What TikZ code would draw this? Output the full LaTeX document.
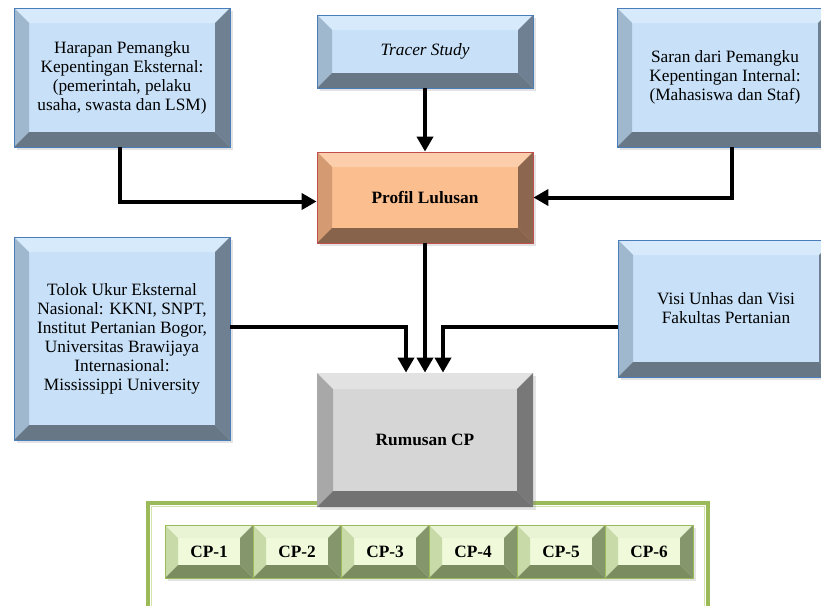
\documentclass[tikz,border=0pt]{standalone}
\usepackage{fontspec}
\setmainfont{Liberation Serif}
\usetikzlibrary{arrows.meta,shadows}
\definecolor{bFace}{RGB}{200,225,248}
\definecolor{bTop}{RGB}{214,234,251}
\definecolor{bLeft}{RGB}{160,184,206}
\definecolor{bRight}{RGB}{110,128,146}
\definecolor{bBot}{RGB}{104,119,134}
\definecolor{bLine}{RGB}{74,126,187}
\definecolor{oFace}{RGB}{251,190,143}
\definecolor{oTop}{RGB}{252,206,172}
\definecolor{oLeft}{RGB}{212,154,114}
\definecolor{oRight}{RGB}{140,102,78}
\definecolor{oBot}{RGB}{134,99,74}
\definecolor{oLine}{RGB}{192,80,77}
\definecolor{gFace}{RGB}{214,214,214}
\definecolor{gTop}{RGB}{226,226,226}
\definecolor{gLeft}{RGB}{168,168,168}
\definecolor{gRight}{RGB}{120,120,120}
\definecolor{gBot}{RGB}{114,114,114}
\definecolor{cFace}{RGB}{240,250,218}
\definecolor{cTop}{RGB}{232,244,212}
\definecolor{cLeft}{RGB}{200,218,168}
\definecolor{cRight}{RGB}{134,150,108}
\definecolor{cBot}{RGB}{122,140,96}
\definecolor{cLine}{RGB}{155,187,89}
\definecolor{cLight}{RGB}{210,228,170}
\tikzset{
  bev/.style n args={7}{% 1 bevel, 2 face, 3 top, 4 left, 5 right, 6 bottom, 7 border
    rectangle, inner sep=0pt, align=center, fill=#2, draw=#7, line width=0.8pt,
    drop shadow={opacity=0.22, shadow xshift=2.5pt, shadow yshift=-3pt},
    path picture={
      \fill[#3] (path picture bounding box.north west) -- (path picture bounding box.north east)
        -- ([xshift=-#1pt,yshift=-#1pt]path picture bounding box.north east)
        -- ([xshift=#1pt,yshift=-#1pt]path picture bounding box.north west) -- cycle;
      \fill[#4] (path picture bounding box.north west)
        -- ([xshift=#1pt,yshift=-#1pt]path picture bounding box.north west)
        -- ([xshift=#1pt,yshift=#1pt]path picture bounding box.south west)
        -- (path picture bounding box.south west) -- cycle;
      \fill[#5] (path picture bounding box.north east) -- (path picture bounding box.south east)
        -- ([xshift=-#1pt,yshift=#1pt]path picture bounding box.south east)
        -- ([xshift=-#1pt,yshift=-#1pt]path picture bounding box.north east) -- cycle;
      \fill[#6] (path picture bounding box.south west) -- (path picture bounding box.south east)
        -- ([xshift=-#1pt,yshift=#1pt]path picture bounding box.south east)
        -- ([xshift=#1pt,yshift=#1pt]path picture bounding box.south west) -- cycle;
    }},
  bluebox/.style={bev={15}{bFace}{bTop}{bLeft}{bRight}{bBot}{bLine},
    font=\fontsize{17.3}{19}\selectfont},
  orangebox/.style={bev={15}{oFace}{oTop}{oLeft}{oRight}{oBot}{oLine},
    font=\fontsize{17.3}{19}\selectfont\bfseries},
  graybox/.style={bev={16}{gFace}{gTop}{gLeft}{gRight}{gBot}{none},
    font=\fontsize{17.3}{19}\selectfont\bfseries},
  cpbox/.style={bev={13}{cFace}{cTop}{cLeft}{cRight}{cBot}{cLine},
    minimum width=88pt, minimum height=53pt,
    font=\fontsize{17.3}{19}\selectfont\bfseries},
  conn/.style={line width=4pt, -{Triangle[length=15pt,width=16pt]}},
}
\begin{document}
\begin{tikzpicture}[x=1pt,y=-1pt]
\useasboundingbox (0,0) rectangle (821,605);
\clip (0,0) rectangle (821,605);
\fill[white] (0,0) rectangle (821,605);
% green frame
\draw[cLine, line width=4pt] (148,610) -- (148,503) -- (708,503) -- (708,610);
\draw[cLight, line width=1.5pt] (151.5,610) -- (151.5,506.5) -- (704.5,506.5) -- (704.5,610);
% boxes
\node[bluebox, minimum width=216pt, minimum height=139pt] (harapan) at (122,77.5)
  {Harapan Pemangku\\Kepentingan Eksternal:\\(pemerintah, pelaku\\usaha, swasta dan LSM)};
\node[bluebox, minimum width=216pt, minimum height=73pt] (tracer) at (425,51.5)
  {\textit{Tracer Study}};
\node[bluebox, minimum width=216pt, minimum height=139pt] (saran) at (725,77.5)
  {Saran dari Pemangku\\Kepentingan Internal:\\(Mahasiswa dan Staf)};
\node[orangebox, minimum width=216pt, minimum height=91pt] (profil) at (425,197.5)
  {Profil Lulusan};
\node[bluebox, minimum width=216pt, minimum height=203pt] (tolok) at (122,338.5)
  {Tolok Ukur Eksternal\\Nasional: KKNI, SNPT,\\Institut Pertanian Bogor,\\Universitas Brawijaya\\Internasional:\\Mississippi University};
\node[bluebox, minimum width=216pt, minimum height=137pt] (visi) at (726,308.5)
  {Visi Unhas dan Visi\\Fakultas Pertanian};
\node[graybox, minimum width=216pt, minimum height=134pt] (rumusan) at (425,440)
  {Rumusan CP};
% CP boxes
\node[cpbox] (cp1) at (209,551.5) {CP-1};
\node[cpbox] (cp2) at (297,551.5) {CP-2};
\node[cpbox] (cp3) at (385,551.5) {CP-3};
\node[cpbox] (cp4) at (473,551.5) {CP-4};
\node[cpbox] (cp5) at (561,551.5) {CP-5};
\node[cpbox] (cp6) at (649,551.5) {CP-6};
% connectors
\draw[conn] ([xshift=-2pt]harapan.south) |- ([yshift=-4pt]profil.west);
\draw[conn] ([xshift=7pt]saran.south) |- (profil.east);
\draw[conn] (tracer.south) -- (profil.north);
\draw[conn] (profil.south) -- (rumusan.north);
\draw[conn] ([yshift=11.5pt]tolok.east) -| ([xshift=-19pt]rumusan.north);
\draw[conn] ([yshift=-18.5pt]visi.west) -| ([xshift=18pt]rumusan.north);
\end{tikzpicture}
\end{document}
